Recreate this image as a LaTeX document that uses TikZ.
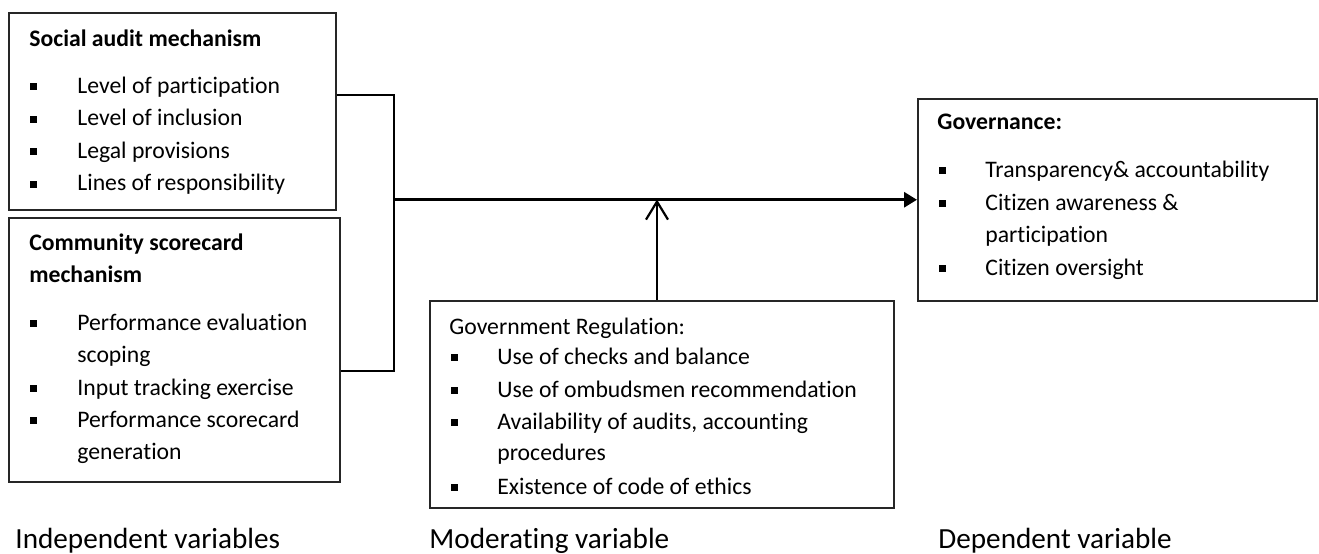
\documentclass[tikz,border=0pt]{standalone}
\usepackage{fontspec}
\setmainfont{Carlito}[Ligatures={NoCommon}]
\usetikzlibrary{arrows.meta}
\newcommand\sqbul[2]{\fill (#1,#2-3) rectangle ++(6.5,-7);}
\begin{document}
\begin{tikzpicture}[x=0.5pt,y=-0.5pt,
  box/.style={draw=black!85, line width=0.75pt, anchor=north west, inner sep=0pt},
  conn/.style={line width=1pt},
  txt/.style={anchor=base west, inner sep=0pt, font=\fontsize{11.85}{14}\selectfont},
  head/.style={txt, font=\fontsize{11.85}{14}\selectfont\bfseries},
  lbl/.style={anchor=base west, inner sep=0pt, font=\fontsize{14.6}{17}\selectfont}]
\useasboundingbox (0,0) rectangle (1319,553);

% boxes
\node[box, minimum width=163.5pt, minimum height=98.5pt] (sam) at (8,12) {};
\node[box, minimum width=165.5pt, minimum height=132pt] (csm) at (8,217) {};
\node[box, minimum width=199.5pt, minimum height=101pt] (gov) at (917,98) {};
\node[box, minimum width=232pt, minimum height=103.5pt] (reg) at (429,300) {};

% social audit mechanism
\node[head] (s0) at (29,46) {Social audit mechanism};
\node[txt] (s1) at (77,93) {Level of participation};
\node[txt] (s2) at (77,125.5) {Level of inclusion};
\node[txt] (s3) at (77,158) {Legal provisions};
\node[txt] (s4) at (77,190.5) {Lines of responsibility};
\sqbul{30}{93}\sqbul{30}{125.5}\sqbul{30}{158}\sqbul{30}{190.5}

% community scorecard mechanism
\node[head] (c0) at (29,250) {Community scorecard};
\node[head] (c0b) at (29,282) {mechanism};
\node[txt] (c1) at (77,330) {Performance evaluation};
\node[txt] (c1b) at (77,362) {scoping};
\node[txt] (c2) at (77,395) {Input tracking exercise};
\node[txt] (c3) at (77,427) {Performance scorecard};
\node[txt] (c3b) at (77,459) {generation};
\sqbul{30}{330}\sqbul{30}{395}\sqbul{30}{427}

% governance
\node[head] (g0) at (937,129) {Governance:};
\node[txt] (g1) at (985,177) {Transparency\& accountability};
\node[txt] (g2) at (985,210) {Citizen awareness \&};
\node[txt] (g2b) at (985,242) {participation};
\node[txt] (g3) at (985,275) {Citizen oversight};
\sqbul{939}{177}\sqbul{939}{210}\sqbul{939}{275}

% government regulation
\node[txt] (r0) at (449,334) {Government Regulation:};
\node[txt] (r1) at (497,364) {Use of checks and balance};
\node[txt] (r2) at (497,397) {Use of ombudsmen recommendation};
\node[txt] (r3) at (497,429) {Availability of audits, accounting};
\node[txt] (r3b) at (497,460) {procedures};
\node[txt] (r4) at (497,494) {Existence of code of ethics};
\sqbul{451}{364}\sqbul{451}{397}\sqbul{451}{429}\sqbul{451}{494}

% connectors
\coordinate (j1) at (394,95);
\coordinate (j2) at (394,371);
\draw[conn] (sam.east |- j1) -- (j1) -- (j2) -- (csm.east |- j2);
\draw[conn, line width=1.5pt, -{Triangle[length=6.5pt,width=7.5pt]}] (j1 |- gov.west) -- (gov.west);
\coordinate (mt) at (657,199.5);
\draw[conn, line width=1.1pt, -{Straight Barb[length=9pt,width=11pt]}] (reg.north -| mt) -- (mt);

% column captions
\node[lbl] (l1) at (15,548) {Independent variables};
\node[lbl] (l2) at (429,548) {Moderating variable};
\node[lbl] (l3) at (938,548) {Dependent variable};
\end{tikzpicture}
\end{document}
